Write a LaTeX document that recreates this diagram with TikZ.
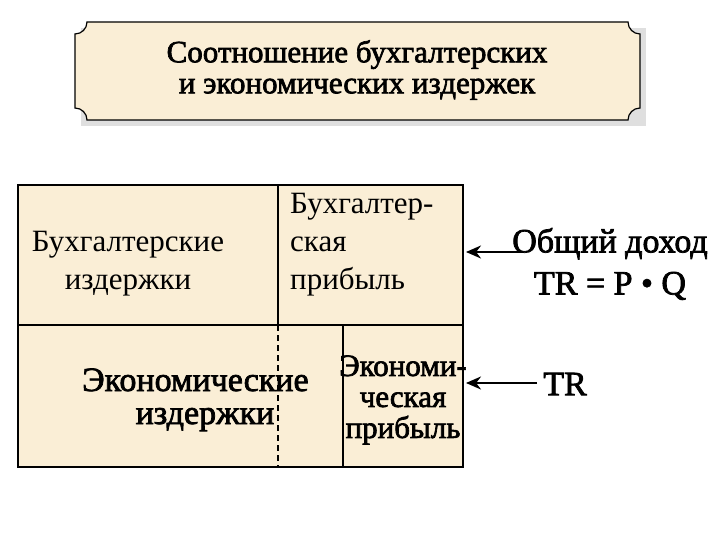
\documentclass[tikz,border=0pt]{standalone}
\usepackage{fontspec}
\setmainfont{Liberation Serif}[BoldFont={Liberation Serif}, BoldFeatures={FakeBold=2.2}]
\usetikzlibrary{arrows.meta}
\definecolor{parch}{RGB}{250,238,214}
\tikzset{
  line/.style={line width=1.6pt},
  reg/.style={font=\fontsize{31}{38}\selectfont, inner sep=0pt},
  bld/.style={font=\bfseries\fontsize{34}{34}\selectfont, inner sep=0pt},
  arr/.style={line width=2.2pt, -{Stealth[length=15pt,width=13pt]}}
}
\begin{document}
\begin{tikzpicture}[x=1pt,y=-1pt]
\useasboundingbox (0,0) rectangle (720,540);
% title plaque
\fill[gray!25] (81,28) rectangle (646,126);
\draw[line width=1.2pt, fill=parch]
  (87,22) -- (628,22) .. controls (628,28.6) and (633.4,34) .. (640,34)
  -- (640,108) .. controls (633.4,108) and (628,113.4) .. (628,120)
  -- (87,120) .. controls (87,113.4) and (81.6,108) .. (75,108)
  -- (75,34) .. controls (81.6,34) and (87,28.6) .. (87,22) -- cycle;
\node[font=\bfseries\fontsize{31}{31}\selectfont, align=center, inner sep=0pt] (title) at (357,70) {Соотношение бухгалтерских\\и экономических издержек};
% table
\fill[parch] (18,185) rectangle (463,467);
\draw[line] (18,185) rectangle (463,467);
\draw[line] (18,325) -- (463,325);
\draw[line] (278,185) -- (278,325);
\draw[line] (343,325) -- (343,467);
\draw[line width=1.2pt, dashed, dash pattern=on 6pt off 4pt] (278,325) -- (278,467);
\node[reg, align=center] (bi) at (128,264) {Бухгалтерские\\издержки};
\node[reg, align=left, anchor=north west] (bp) at (290,193) {Бухгалтер-\\ская\\прибыль};
\node[bld, anchor=base west] (ei1) at (82,391) {Экономические};
\node[bld, anchor=base] (ei2) at (205,424) {издержки};
\node[font=\bfseries\fontsize{31}{31}\selectfont, inner sep=0pt, align=center] (ep) at (403,400) {Экономи-\\ческая\\прибыль};
% right side
\node[font=\bfseries\fontsize{34}{42}\selectfont, inner sep=0pt, align=center] (td) at (610,264) {Общий доход\\TR = P • Q};
\node[font=\bfseries\fontsize{34}{34}\selectfont, inner sep=0pt] (tr) at (565,384) {TR};
\coordinate (a1s) at (522,252);
\coordinate (a1e) at (466,252);
\coordinate (a2s) at (537,383);
\coordinate (a2e) at (466,383);
\draw[arr] (a1s) -- (a1e);
\draw[arr] (a2s) -- (a2e);
\end{tikzpicture}
\end{document}
